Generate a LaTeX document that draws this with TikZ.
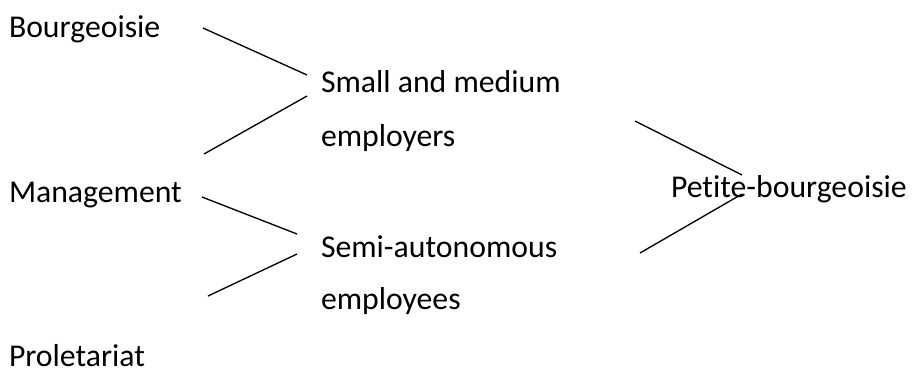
\documentclass[tikz,border=0pt]{standalone}
\usepackage{fontspec}
\setmainfont[RawFeature={-liga}]{Carlito}
\begin{document}
\begin{tikzpicture}[x=0.75pt,y=-0.75pt,
  lbl/.style={anchor=base west,inner sep=0pt,outer sep=0pt,font=\fontsize{23.8}{28}\selectfont},
  link/.style={draw=black,line width=1pt}]
\useasboundingbox (0,0) rectangle (912,369);
% labels
\node[lbl] (bour) at (9,37) {Bourgeoisie};
\node[lbl] (sm1) at (321,92) {Small and medium};
\node[lbl] (sm2) at (321,146) {employers};
\node[lbl] (mgmt) at (9,202) {Management};
\node[lbl] (petite) at (671,197) {Petite-bourgeoisie};
\node[lbl] (semi1) at (321,257) {Semi-autonomous};
\node[lbl] (semi2) at (321,309) {employees};
\node[lbl] (prol) at (9,366) {Proletariat};
% connector end points
\coordinate (b-r) at (203,28);
\coordinate (sm-l1) at (307,75);
\coordinate (sm-l2) at (307,96);
\coordinate (m-up) at (204,154);
\coordinate (m-r) at (202,197);
\coordinate (se-l1) at (297,234);
\coordinate (se-l2) at (297,254);
\coordinate (p-up) at (208,296);
\coordinate (sm-r) at (635,121);
\coordinate (pb-l1) at (742,175);
\coordinate (pb-l2) at (742,194);
\coordinate (se-r) at (640,253);
% connectors
\draw[link] (b-r) -- (sm-l1);
\draw[link] (m-up) -- (sm-l2);
\draw[link] (m-r) -- (se-l1);
\draw[link] (p-up) -- (se-l2);
\draw[link] (sm-r) -- (pb-l1);
\draw[link] (se-r) -- (pb-l2);
\end{tikzpicture}
\end{document}
